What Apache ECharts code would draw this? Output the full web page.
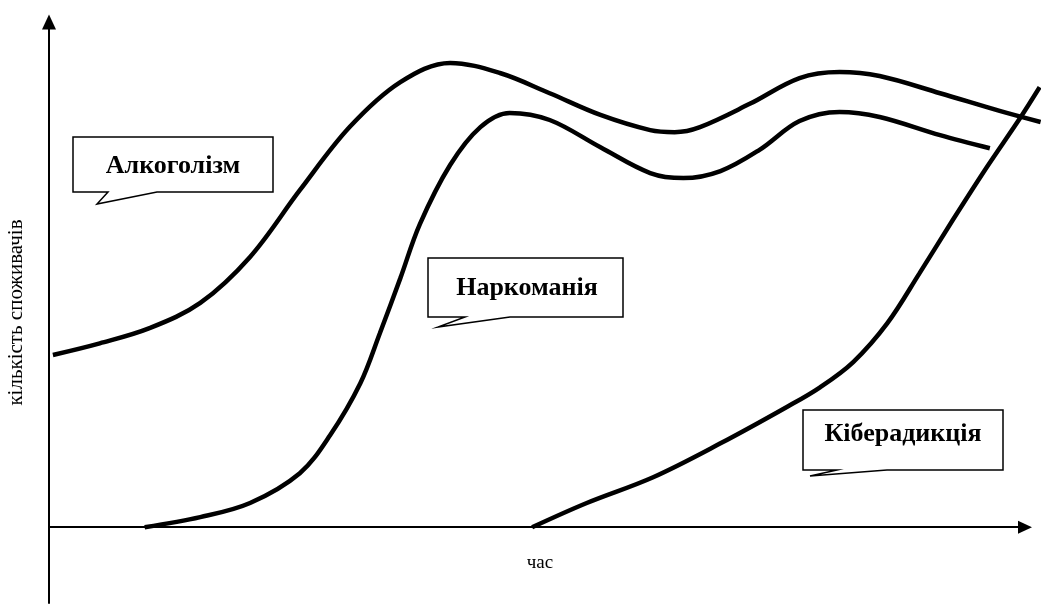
<!DOCTYPE html>
<html>
<head>
<meta charset="utf-8">
<script src="https://cdn.jsdelivr.net/npm/echarts@6/dist/echarts.min.js"></script>
<style>html,body{margin:0;padding:0;background:#fff}#c{width:1041px;height:604px}</style>
</head>
<body>
<div id="c"></div>
<script>
// Time (0..100) and number of consumers (0..100)
const alcoholX = [0.4, 5.2, 10.3, 15.5, 20.6, 25.7, 30.8, 36.0, 41.1, 46.2, 51.3, 56.5, 61.6, 64.1, 66.7, 71.8, 76.9, 81.0, 85.1, 91.3, 97.4, 101.6];
const alcoholY = [34.1, 36.4, 39.4, 44.4, 53.5, 66.7, 79.2, 88.1, 91.9, 89.9, 85.9, 81.6, 78.6, 78.2, 79.2, 83.8, 88.9, 90.1, 89.3, 85.9, 82.4, 80.2];

const drugsX = [9.8, 15.5, 20.6, 25.7, 28.8, 31.9, 33.9, 36.0, 38.0, 41.1, 44.2, 47.2, 51.3, 56.5, 61.6, 65.0, 68.8, 72.8, 76.9, 81.0, 85.1, 91.3, 96.4];
const drugsY = [0, 2.0, 4.8, 10.7, 18.2, 28.5, 38.4, 49.3, 60.0, 71.7, 79.2, 82.0, 80.6, 75.2, 70.1, 69.1, 70.5, 74.7, 80.4, 82.2, 81.2, 77.6, 75.0];

const cyberX = [49.5, 55.1, 61.9, 68.8, 75.6, 79.0, 82.4, 85.9, 89.2, 92.6, 96.1, 99.5, 101.5];
const cyberY = [0, 4.8, 9.9, 16.6, 23.8, 27.7, 32.7, 40.4, 50.3, 60.8, 71.3, 81.0, 87.1];

const seriesNames = ['Алкоголізм', 'Наркоманія', 'Кіберадикція'];
const xAxisName = 'час';
const yAxisName = 'кількість споживачів';

function pairs(xs, ys) { return xs.map((x, i) => [x, ys[i]]); }

const chart = echarts.init(document.getElementById('c'), null, {renderer: 'canvas'});

const SERIF = '"Liberation Serif", "Times New Roman", serif';
const lineStyle = {color: '#000', width: 4.5};
const mkSeries = (name, xs, ys) => ({
  name, type: 'line', data: pairs(xs, ys), symbol: 'none', smooth: 0.35,
  xAxisIndex: 0, yAxisIndex: 0,
  clip: false, lineStyle, silent: true, z: 3
});

const boxStyle = {fill: '#fff', stroke: '#000', lineWidth: 1.5};

function callout(points, text, tx, ty) {
  return {
    type: 'group', z: 10, children: [
      {type: 'polygon', shape: {points}, style: boxStyle},
      {type: 'text', x: tx, y: ty, style: {
        text, font: 'bold 26px ' + SERIF, fontFamily: SERIF, fontWeight: 'bold', fontSize: 26,
        fill: '#000', align: 'center', verticalAlign: 'middle'
      }}
    ]
  };
}

const hidden = {show: false};

chart.setOption({
  animation: false,
  backgroundColor: '#fff',
  grid: [
    // data grid: extends to the right edge so curves can pass the axis arrow
    {left: 49, right: 0, top: 22, bottom: 1, containLabel: false, outerBoundsMode: 'none'},
    // visible axes grid
    {left: 49, right: 16, top: 22, bottom: 1, containLabel: false, outerBoundsMode: 'none'}
  ],
  xAxis: [
    {gridIndex: 0, type: 'value', min: 0, max: 101.64, show: false},
    {
      gridIndex: 1, type: 'value', min: 0, max: 100,
      axisLine: {onZero: true, lineStyle: {color: '#000', width: 2}, symbol: ['none', 'triangle'], symbolSize: [13, 14]},
      axisTick: hidden, axisLabel: hidden, splitLine: hidden
    }
  ],
  yAxis: [
    {gridIndex: 0, type: 'value', min: -15, max: 100, show: false},
    {
      gridIndex: 1, type: 'value', min: -15, max: 100,
      axisLine: {lineStyle: {color: '#000', width: 2}, symbol: ['none', 'triangle'], symbolSize: [14, 15]},
      axisTick: hidden, axisLabel: hidden, splitLine: hidden,
      name: yAxisName, nameLocation: 'middle', nameGap: 22, nameRotate: 90,
      nameTextStyle: {fontFamily: SERIF, fontSize: 21, color: '#000'}
    }
  ],
  series: [
    mkSeries(seriesNames[0], alcoholX, alcoholY),
    mkSeries(seriesNames[1], drugsX, drugsY),
    mkSeries(seriesNames[2], cyberX, cyberY)
  ],
  graphic: [
    {type: 'text', x: 540, y: 563, z: 10, style: {text: xAxisName, font: '19px ' + SERIF, fontFamily: SERIF, fontSize: 19, fill: '#000', align: 'center', verticalAlign: 'middle'}},
    callout([[73,137],[273,137],[273,192],[157,192],[97,204],[108,192],[73,192]], seriesNames[0], 173, 166),
    callout([[428,258],[623,258],[623,317],[510,317],[438,327],[465,317],[428,317]], seriesNames[1], 527, 288),
    callout([[803,410],[1003,410],[1003,470],[887,470],[810,476],[837,470],[803,470]], seriesNames[2], 903, 434)
  ]
});
</script>
</body>
</html>
